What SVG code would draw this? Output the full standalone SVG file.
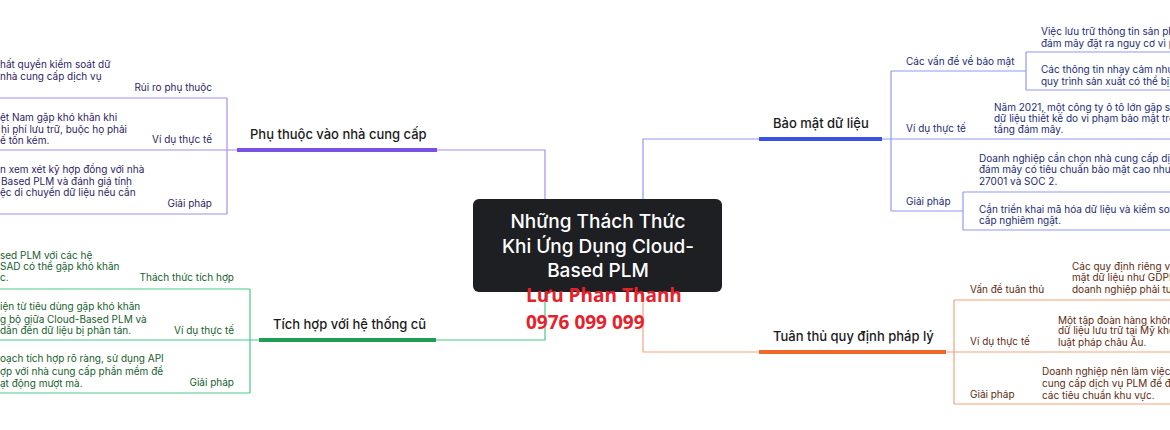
<svg xmlns="http://www.w3.org/2000/svg" width="1170" height="430" viewBox="0 0 1170 430">
<style>
text{font-family:Inter,"Noto Sans",sans-serif}
.d{font-size:10px}
.l{font-size:10px}
.m{font-size:13px;font-weight:500;fill:#1b1b1b}
.e{text-anchor:end}
.pu{fill:#2e1d63}.gr{fill:#17602f}.bl{fill:#232c75}.or{fill:#5e2a12}
.tp{fill:none;stroke:#a88ef0;stroke-width:1.2}
.tg{fill:none;stroke:#4cc985;stroke-width:1.2}
.tb{fill:none;stroke:#8f98f6;stroke-width:1.2}
.to{fill:none;stroke:#f7a27c;stroke-width:1.2}
.k{fill:none;stroke-width:4}
</style>
<rect width="1170" height="430" fill="#ffffff"/>
<g id="connectors">
<path class="tp" d="M545,199V150H437M227,150H237M227,98V214M0,98H227M0,150H227M0,214H227"/>
<path class="k" stroke="#7b50e4" d="M237,150H437"/>
<path class="tg" d="M545,292V340H436M250,340H259M250,289V393M0,289H250M0,340H250M0,393H250"/>
<path class="k" stroke="#1e9e55" d="M259,340H436"/>
<path class="tb" d="M643,199V139H759M882,139H891M891,71V211M891,71H1026M1026,52V90M1026,52H1170M1026,90H1170M891,139H1170M891,211H963M963,192V230M963,192H1170M963,230H1170"/>
<path class="k" stroke="#3d50e6" d="M759,139H882"/>
<path class="to" d="M643,292V352H759M946,352H954M954,300V404M954,300H1170M954,352H1170M954,404H1170"/>
<path class="k" stroke="#f0662b" d="M759,352H946"/>
</g>
<g id="center">
<rect x="473" y="199" width="249" height="93" rx="6" fill="#1e1f23"/>
<text x="598" y="228" text-anchor="middle" font-size="19" font-weight="500" fill="#ffffff">Những Thách Thức</text>
<text x="598" y="253" text-anchor="middle" font-size="19" font-weight="500" fill="#ffffff">Khi Ứng Dụng Cloud-</text>
<text x="598" y="277" text-anchor="middle" font-size="19" font-weight="500" fill="#ffffff">Based PLM</text>
</g>
<g id="watermark">
<text x="526" y="302" font-size="19" font-weight="700" fill="#e8202a" style="font-family:'Open Sans',sans-serif">Lưu Phan Thanh</text>
<text x="526" y="329" font-size="19" font-weight="700" fill="#e8202a" style="font-family:'Open Sans',sans-serif">0976 099 099</text>
</g>
<g id="branch-vendor">
<text class="m" x="250" y="139">Phụ thuộc vào nhà cung cấp</text>
<g id="vendor-risk">
<text class="l pu e" x="212" y="91">Rủi ro phụ thuộc</text>
<text class="d pu" x="0" y="68">hất quyền kiểm soát dữ</text>
<text class="d pu" x="0" y="80">nhà cung cấp dịch vụ</text>
</g>
<g id="vendor-example">
<text class="l pu e" x="212" y="143">Ví dụ thực tế</text>
<text class="d pu" x="0" y="120.5">ệt Nam gặp khó khăn khi</text>
<text class="d pu" x="1" y="132.5">hi phí lưu trữ, buộc họ phải</text>
<text class="d pu" x="0" y="144">ế tốn kém.</text>
</g>
<g id="vendor-solution">
<text class="l pu e" x="212" y="207">Giải pháp</text>
<text class="d pu" x="0" y="172.5">n xem xét kỹ hợp đồng với nhà</text>
<text class="d pu" x="1" y="184.5">Based PLM và đánh giá tính</text>
<text class="d pu" x="0" y="196">ệc di chuyển dữ liệu nếu cần</text>
</g>
</g>
<g id="branch-legacy">
<text class="m" x="273" y="329">Tích hợp với hệ thống cũ</text>
<g id="legacy-challenge">
<text class="l gr e" x="234" y="281">Thách thức tích hợp</text>
<text class="d gr" x="0" y="258.5">sed PLM với các hệ</text>
<text class="d gr" x="0" y="269.5">SAD có thể gặp khó khăn</text>
<text class="d gr" x="0" y="280.5">c.</text>
</g>
<g id="legacy-example">
<text class="l gr e" x="234" y="333.5">Ví dụ thực tế</text>
<text class="d gr" x="0" y="310">iện từ tiêu dùng gặp khó khăn</text>
<text class="d gr" x="0" y="322.5">g bộ giữa Cloud-Based PLM và</text>
<text class="d gr" x="0" y="333.5">dẫn đến dữ liệu bị phân tán.</text>
</g>
<g id="legacy-solution">
<text class="l gr e" x="234" y="386">Giải pháp</text>
<text class="d gr" x="0" y="362">oạch tích hợp rõ ràng, sử dụng API</text>
<text class="d gr" x="0" y="374.5">ợp với nhà cung cấp phần mềm để</text>
<text class="d gr" x="0" y="386.5">ạt động mượt mà.</text>
</g>
</g>
<g id="branch-security">
<text class="m" x="773" y="128">Bảo mật dữ liệu</text>
<g id="security-issues">
<text class="l bl" x="906" y="65">Các vấn đề về bảo mật</text>
<text class="d bl" x="1041" y="34.5">Việc lưu trữ thông tin sản ph</text>
<text class="d bl" x="1041" y="46.5">đám mây đặt ra nguy cơ vì p</text>
<text class="d bl" x="1041" y="72.5">Các thông tin nhạy cảm như</text>
<text class="d bl" x="1041" y="84.5">quy trình sản xuất có thể bị r</text>
</g>
<g id="security-example">
<text class="l bl" x="906" y="132">Ví dụ thực tế</text>
<text class="d bl" x="994" y="110.5">Năm 2021, một công ty ô tô lớn gặp sự</text>
<text class="d bl" x="994" y="122">dữ liệu thiết kế do vi phạm bảo mật trê</text>
<text class="d bl" x="994" y="133">tầng đám mây.</text>
</g>
<g id="security-solution">
<text class="l bl" x="906" y="204.5">Giải pháp</text>
<text class="d bl" x="979" y="161.5">Doanh nghiệp cần chọn nhà cung cấp dịch</text>
<text class="d bl" x="979" y="173">đám mây có tiêu chuẩn bảo mật cao như I</text>
<text class="d bl" x="979" y="184.5">27001 và SOC 2.</text>
<text class="d bl" x="979" y="212.5">Cần triển khai mã hóa dữ liệu và kiểm soát</text>
<text class="d bl" x="979" y="223.5">cấp nghiêm ngặt.</text>
</g>
</g>
<g id="branch-legal">
<text class="m" x="773" y="341">Tuân thủ quy định pháp lý</text>
<g id="legal-issue">
<text class="l or" x="970" y="293">Vấn đề tuân thủ</text>
<text class="d or" x="1072" y="269.5">Các quy định riêng về</text>
<text class="d or" x="1072" y="281">mặt dữ liệu như GDPR</text>
<text class="d or" x="1072" y="293">doanh nghiệp phải tuâ</text>
</g>
<g id="legal-example">
<text class="l or" x="970" y="345">Ví dụ thực tế</text>
<text class="d or" x="1058" y="323.5">Một tập đoàn hàng khôn</text>
<text class="d or" x="1058" y="334">dữ liệu lưu trữ tại Mỹ khô</text>
<text class="d or" x="1058" y="345.5">luật pháp châu Âu.</text>
</g>
<g id="legal-solution">
<text class="l or" x="970" y="398">Giải pháp</text>
<text class="d or" x="1042" y="375">Doanh nghiệp nên làm việc c</text>
<text class="d or" x="1042" y="387">cung cấp dịch vụ PLM để đả</text>
<text class="d or" x="1042" y="398.5">các tiêu chuẩn khu vực.</text>
</g>
</g>
</svg>
